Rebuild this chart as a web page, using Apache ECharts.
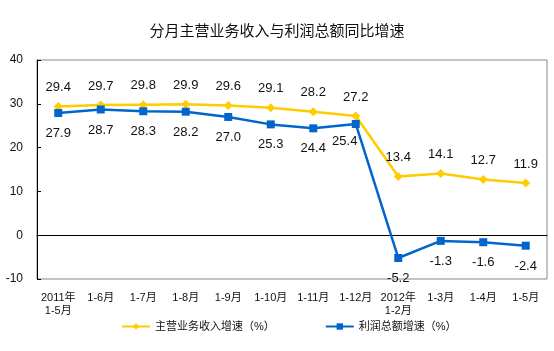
<!DOCTYPE html>
<html lang="zh">
<head>
  <meta charset="UTF-8">
  <title>分月主营业务收入与利润总额同比增速</title>
  <style>
    html, body { margin: 0; padding: 0; background: #fff; }
    #main { width: 554px; height: 351px; }
  </style>
</head>
<body>
<div id="main"></div>
<script src="https://cdn.jsdelivr.net/npm/echarts@6/dist/echarts.min.js"></script>
<script>
  // 月份（累计）
  var months = ['2011年\n1-5月', '1-6月', '1-7月', '1-8月', '1-9月', '1-10月', '1-11月', '1-12月',
    '2012年\n1-2月', '1-3月', '1-4月', '1-5月'];
  // 主营业务收入增速 (%)
  var revenue = [29.4, 29.7, 29.8, 29.9, 29.6, 29.1, 28.2, 27.2, 13.4, 14.1, 12.7, 11.9];
  // 利润总额增速 (%)
  var profit = [27.9, 28.7, 28.3, 28.2, 27.0, 25.3, 24.4, 25.4, -5.2, -1.3, -1.6, -2.4];

  var font = 'Arial, "Liberation Sans", "Noto Sans CJK SC", sans-serif';

  var profitData = profit.map(function (v, i) {
    if (i === 7) {
      return { value: v, label: { offset: [-11, -3] } };
    }
    return v;
  });

  function oneDecimal(p) {
    return Number(p.value).toFixed(1);
  }

  var chart = echarts.init(document.getElementById('main'));
  chart.setOption({
    animation: false,
    backgroundColor: '#fff',
    title: {
      text: '分月主营业务收入与利润总额同比增速',
      left: 'center',
      top: 19,
      textStyle: { fontSize: 15, fontWeight: 'normal', color: '#111', fontFamily: font }
    },
    legend: {
      bottom: 14,
      left: 116,
      itemWidth: 28,
      itemHeight: 8,
      itemGap: 50,
      textStyle: { fontSize: 11, color: '#111', fontFamily: font },
      data: ['主营业务收入增速（%）', '利润总额增速（%）']
    },
    grid: {
      left: 37, right: 7, top: 60, bottom: 72,
      show: true, borderColor: '#888', borderWidth: 1
    },
    xAxis: {
      type: 'category',
      data: months,
      axisLine: { lineStyle: { color: '#000', width: 1 } },
      axisTick: { inside: true, length: 4, lineStyle: { color: '#000' } },
      axisLabel: { fontSize: 11, color: '#111', margin: 12, lineHeight: 13, interval: 0, fontFamily: font }
    },
    yAxis: {
      type: 'value',
      min: -10, max: 40, interval: 10,
      axisLine: { show: true, lineStyle: { color: '#000', width: 1 } },
      axisTick: { show: true, inside: true, length: 4, lineStyle: { color: '#000' } },
      splitLine: { show: false },
      axisLabel: { fontSize: 12, color: '#111', margin: 14, fontFamily: font }
    },
    series: [
      {
        name: '主营业务收入增速（%）',
        type: 'line',
        data: revenue,
        color: '#FFCC00',
        symbol: 'diamond',
        symbolSize: 9,
        lineStyle: { width: 2.5 },
        label: {
          show: true, position: 'top', distance: 8, formatter: oneDecimal,
          fontSize: 13, color: '#111', fontFamily: font
        }
      },
      {
        name: '利润总额增速（%）',
        type: 'line',
        data: profitData,
        color: '#0066CC',
        symbol: 'rect',
        symbolSize: 8,
        lineStyle: { width: 2.5 },
        label: {
          show: true, position: 'bottom', distance: 10, formatter: oneDecimal,
          fontSize: 13, color: '#111', fontFamily: font
        }
      }
    ]
  });
</script>
</body>
</html>
